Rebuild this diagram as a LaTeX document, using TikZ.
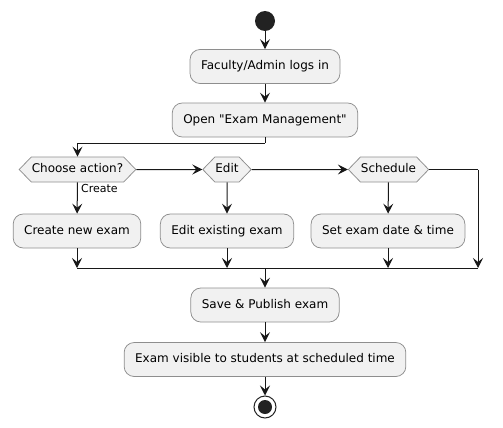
\documentclass[tikz,border=0pt]{standalone}
\usepackage{fontspec}
\setmainfont{DejaVu Sans}
\usetikzlibrary{arrows.meta,shapes.symbols}

\definecolor{umlfill}{HTML}{F1F1F1}
\definecolor{umlline}{HTML}{181818}
\definecolor{umlborder}{HTML}{8E8E8E}
\definecolor{umldark}{HTML}{222222}

\begin{document}
\begin{tikzpicture}[
		x=1pt, y=-1pt,
		font=\fontsize{12}{14}\selectfont,
		action/.style={rectangle, rounded corners=10pt, draw=umlborder, line width=0.75pt, fill=umlfill, minimum height=34pt, inner xsep=11pt, text height=9pt, text depth=2.5pt},
		decision/.style={signal, signal to=west and east, signal pointer angle=92, draw=umlborder, line width=0.75pt, fill=umlfill, minimum height=25pt, inner xsep=0.5pt, text height=9pt, text depth=2.5pt},
		start dot/.style={circle, fill=umldark, minimum size=20pt, inner sep=0pt},
		stop ring/.style={circle, draw=umldark, line width=1pt, fill=white, minimum size=22pt, inner sep=0pt},
		flow/.style={draw=umlline, line width=1pt, -{Stealth[length=10pt, width=10pt, inset=4pt]}},
		bar/.style={draw=umlline, line width=1pt}
		]
		\useasboundingbox (0,0) rectangle (503,428);
		
		% ---------------------------------------------------------
		% Top: login and opening the module
		% ---------------------------------------------------------
		\node[start dot] (start) at (265, 21) {};
		\node[action] (login) at (265, 66.5) {Faculty/Admin logs in};
		\node[action] (open) at (265, 120) {Open \textquotedbl Exam Management\textquotedbl};
		
		\draw[flow] (start) -- (login);
		\draw[flow] (login) -- (open);
		
		% ---------------------------------------------------------
		% Middle: the three choices
		% ---------------------------------------------------------
		\node[decision] (choose) at (77.5, 169.5) {Choose action?};
		\node[decision] (edit) at (227, 169.5) {Edit};
		\node[decision] (sched) at (388.5, 169.5) {Schedule};
		
		\node[action] (create) at (77, 231) {Create new exam};
		\node[action] (editex) at (227, 231) {Edit existing exam};
		\node[action] (setdate) at (388, 231) {Set exam date \& time};
		
		\coordinate (split) at (265, 143);
		\coordinate (elbow) at (478, 169.5);
		\coordinate (mergeL) at (77, 268);
		\coordinate (mergeM) at (265, 268);
		\coordinate (mergeR) at (478, 268);
		
		\draw[bar] (open.south) -- (split);
		\draw[flow] (split) -| (choose.north);
		\draw[flow] (choose) -- (edit);
		\draw[flow] (edit) -- (sched);
		
		\draw[flow] (choose) -- node[pos=0.2, right, font=\fontsize{11}{13}\selectfont] {Create} (create);
		\draw[flow] (edit) -- (editex);
		\draw[flow] (sched) -- (setdate);
		
		% merge everything on one bar
		\draw[flow] (create) -- (mergeL);
		\draw[flow] (editex) -- (editex |- mergeM);
		\draw[flow] (setdate) -- (setdate |- mergeM);
		\draw[bar] (sched.east) -- (elbow);
		\draw[flow] (elbow) -- (mergeR);
		\draw[bar] (mergeL) -- (mergeR);
		
		% ---------------------------------------------------------
		% Bottom: publish and stop
		% ---------------------------------------------------------
		\node[action] (save) at (265, 305) {Save \& Publish exam};
		\node[action] (visible) at (265, 359.5) {Exam visible to students at scheduled time};
		\node[stop ring] (stop) at (265, 407) {};
		\node[start dot, minimum size=14pt] (stopdot) at (stop) {};
		
		\draw[flow] (mergeM) -- (save);
		\draw[flow] (save) -- (visible);
		\draw[flow] (visible) -- (stop);
		
	\end{tikzpicture}
\end{document}
